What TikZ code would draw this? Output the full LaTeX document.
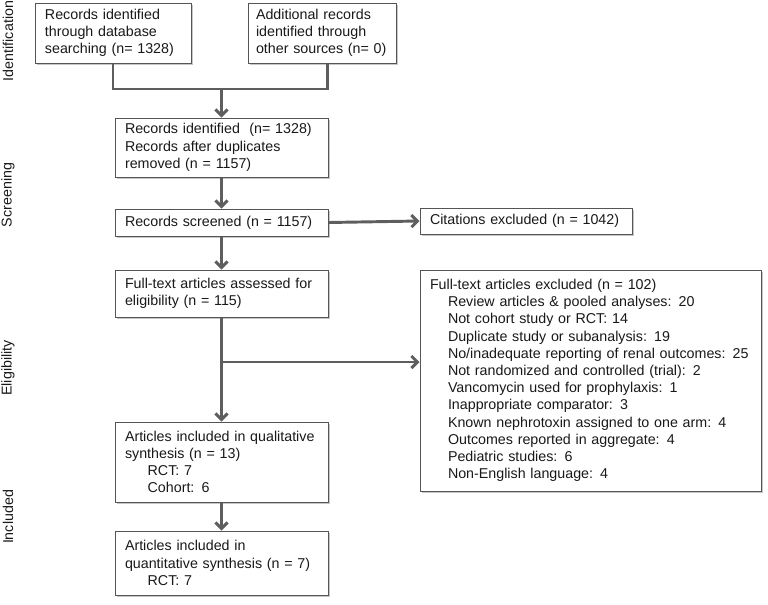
\documentclass[tikz,border=0pt]{standalone}
\usepackage{fontspec}
\setmainfont{Liberation Sans}
\usetikzlibrary{positioning,arrows.meta,shadows}
\definecolor{linegray}{HTML}{5E5E5E}
\definecolor{boxgray}{HTML}{555555}
\tikzset{font=\fontsize{10.7}{12.9}\selectfont}

\begin{document}
\begin{tikzpicture}[x=0.75pt,y=-0.75pt,
    every node/.style={text=black!90},
    box/.style={draw=boxgray,line width=0.75pt,fill=white,align=left,
      inner xsep=7.5pt,inner ysep=0pt,
      drop shadow={shadow xshift=1.2pt,shadow yshift=-1.2pt,fill=black,opacity=0.22}},
    arr/.style={draw=linegray,line width=2.2pt,-{Straight Barb[length=4.5pt,width=9pt]}},
    conn/.style={draw=linegray,line width=2.2pt},
    phase/.style={rotate=90}]
      \useasboundingbox (0,0) rectangle (768,604);

      \node[phase] (L0) at (8,41) {Identification};
      \node[phase] (L1) at (8,195) {Screening};
      \node[phase] (L2) at (8,368) {Eligibility};
      \node[phase] (L3) at (8,517) {Included};

      \node[box,text width=102pt,minimum height=45pt] (I1) at (113,33)
        {Records identified\\through database\\searching (n= 1328)};
      \node[box,inner xsep=6pt,text width=99pt,minimum height=45pt] (I2) at (322,33)
        {Additional records\\identified through\\other sources (n=~0)};

      \node[box,text width=144.75pt,minimum height=44.25pt] (S1) at (221.5,147.5)
        {Records identified\ \ (n= 1328)\\Records after duplicates\\removed (n = 1157)};
      \node[box,text width=144.75pt,minimum height=20.25pt] (S2) at (221.5,222.5)
        {Records screened (n = 1157)};
      \node[box,text width=144pt,minimum height=19.5pt] (X1) at (526,221)
        {Citations excluded (n = 1042)};

      \node[box,text width=144.75pt,minimum height=35.25pt] (E1) at (221.5,293.5)
        {Full-text articles assessed for\\eligibility (n = 115)};
      \node[box,text width=240.75pt,minimum height=165.75pt] (X2) at (590.5,380.5)
        {Full-text articles excluded (n = 102)\\
         \hspace*{13.5pt}Review articles \& pooled analyses: 20\\
         \hspace*{13.5pt}Not cohort study or RCT: 14\\
         \hspace*{13.5pt}Duplicate study or subanalysis: 19\\
         \hspace*{13.5pt}No/inadequate reporting of renal outcomes: 25\\
         \hspace*{13.5pt}Not randomized and controlled (trial): 2\\
         \hspace*{13.5pt}Vancomycin used for prophylaxis: 1\\
         \hspace*{13.5pt}Inappropriate comparator: 3\\
         \hspace*{13.5pt}Known nephrotoxin assigned to one arm: 4\\
         \hspace*{13.5pt}Outcomes reported in aggregate: 4\\
         \hspace*{13.5pt}Pediatric studies: 6\\
         \hspace*{13.5pt}Non-English language: 4};

      \node[box,text width=144.75pt,minimum height=60pt] (N1) at (221.5,462)
        {Articles included in qualitative\\synthesis (n = 13)\\
         \hspace*{17pt}RCT: 7\\
         \hspace*{17pt}Cohort: 6};
      \node[box,text width=144.75pt,minimum height=48pt] (N2) at (221.5,563)
        {Articles included in\\quantitative synthesis (n = 7)\\
         \hspace*{17pt}RCT: 7};

      \coordinate (J) at (221.5,89);
      \coordinate (K) at (221.5,362);

      \draw [conn] (I1.south) |- (J) -| ([xshift=4pt]I2.south);
      \draw [arr] (J) -- (S1.north);
      \draw [arr] (S1.south) -- (S2.north);
      \draw [arr] (S2.east) -- (X1.west);
      \draw [arr] (S2.south) -- (E1.north);
      \draw [arr] (E1.south) -- (N1.north);
      \draw [arr] (K) -- (K -| X2.west);
      \draw [arr] (N1.south) -- (N2.north);
  \end{tikzpicture}
\end{document}
